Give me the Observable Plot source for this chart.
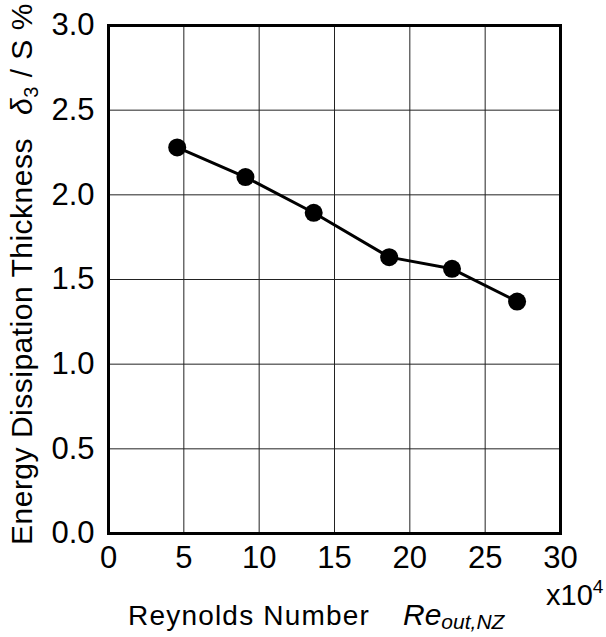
<!DOCTYPE html>
<html>
<head>
<meta charset="utf-8">
<script src="https://cdn.jsdelivr.net/npm/d3@7"></script>
<script src="https://cdn.jsdelivr.net/npm/@observablehq/plot@0.6"></script>
<style>
  html, body { margin: 0; padding: 0; background: #fff; }
  svg text { font-family: "Liberation Sans", Arial, Helvetica, sans-serif; }
</style>
</head>
<body>
<div id="chart"></div>
<script>
// Data (Reynolds number x10^4, energy dissipation thickness %)
const reynolds = [4.56, 9.09, 13.62, 18.63, 22.8, 27.12];
const thickness = [2.28, 2.105, 1.894, 1.632, 1.563, 1.37];
const xTicks = [0, 5, 10, 15, 20, 25, 30];
const yTicks = [0.0, 0.5, 1.0, 1.5, 2.0, 2.5, 3.0];
const xGrid = [5, 10, 15, 20, 25];
const yGrid = [0.5, 1.0, 1.5, 2.0, 2.5];

const data = reynolds.map((x, i) => ({x, y: thickness[i]}));

const W = 606, H = 637;
const chart = Plot.plot({
  width: W,
  height: H,
  marginLeft: 108,
  marginRight: 46,
  marginTop: 25,
  marginBottom: 104,
  style: {fontSize: "31px", fontFamily: "Liberation Sans, Arial, sans-serif", color: "#000", background: "#fff"},
  x: {domain: [0, 30]},
  y: {domain: [0, 3]},
  marks: [
    Plot.gridX(xGrid, {stroke: "#222", strokeOpacity: 1, strokeWidth: 1}),
    Plot.gridY(yGrid, {stroke: "#222", strokeOpacity: 1, strokeWidth: 1}),
    Plot.frame({stroke: "#000", strokeWidth: 3}),
    Plot.axisX(xTicks, {tickSize: 0, tickPadding: 12, tickFormat: d3.format("d"), label: null}),
    Plot.axisY(yTicks, {tickSize: 0, tickPadding: 14, tickFormat: d3.format(".1f"), label: null}),
    Plot.line(data, {x: "x", y: "y", stroke: "#000", strokeWidth: 3}),
    Plot.dot(data, {x: "x", y: "y", r: 9, fill: "#000", stroke: "none"})
  ]
});
document.getElementById("chart").appendChild(chart);

const svg = d3.select(chart);
const font = "Liberation Sans, Arial, sans-serif";

// X axis label with italic symbol and subscript
const xl = svg.append("text")
  .attr("x", 128).attr("y", 625)
  .attr("text-anchor", "start")
  .attr("font-family", font).attr("font-size", 28)
  .attr("fill", "#000");
xl.append("tspan").attr("letter-spacing", "1.2px").text("Reynolds Number");
xl.append("tspan").attr("x", 403).attr("font-style", "italic").attr("font-size", 30).text("Re");
xl.append("tspan").attr("font-style", "italic").attr("font-size", 21).attr("dy", 4).text("out,NZ");

// x10^4 multiplier
const mult = svg.append("text")
  .attr("x", 546).attr("y", 605)
  .attr("text-anchor", "start")
  .attr("font-family", font).attr("font-size", 29)
  .attr("fill", "#000");
mult.append("tspan").text("x10");
mult.append("tspan").attr("font-size", 19).attr("dy", -12).text("4");

// Y axis label, rotated
const yl = svg.append("text")
  .attr("transform", "translate(32,545) rotate(-90)")
  .attr("text-anchor", "start")
  .attr("font-family", font).attr("font-size", 30)
  .attr("letter-spacing", "0.5px").attr("fill", "#000");
yl.append("tspan").text("Energy Dissipation Thickness");
yl.append("tspan").attr("x", 430).attr("font-style", "italic").text("δ");
yl.append("tspan").attr("font-size", 20).attr("dy", 6).text("3");
yl.append("tspan").attr("dy", -6).text(" / S %");
</script>
</body>
</html>
